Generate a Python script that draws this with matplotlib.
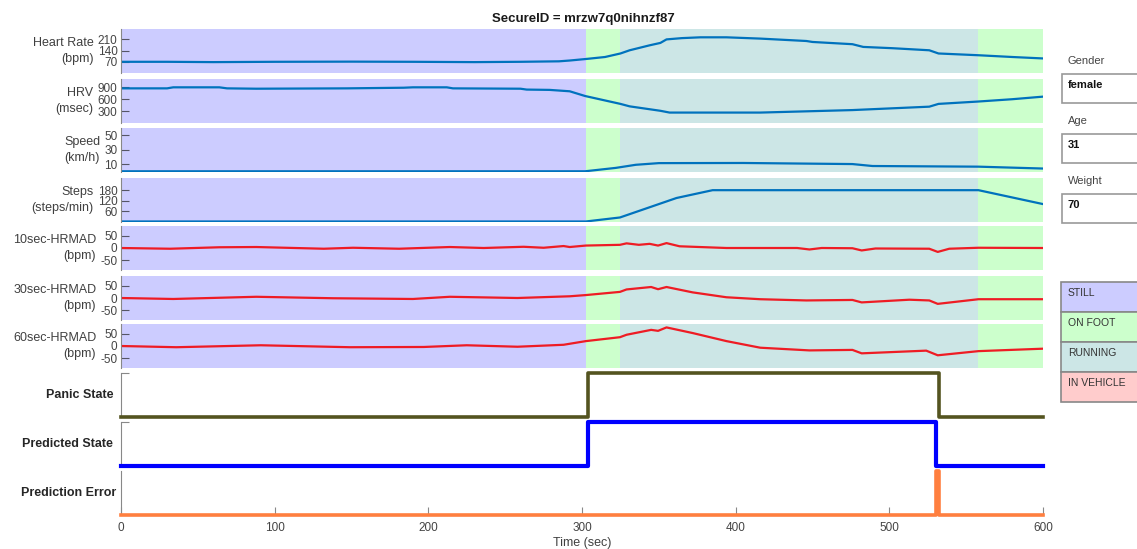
import matplotlib.pyplot as plt
from matplotlib.patches import Rectangle

plt.rcParams['font.family'] = ['Liberation Sans', 'DejaVu Sans']
plt.rcParams['axes.unicode_minus'] = False

W, H = 1137, 549

# activity states and the time segments they cover (sec)
state_names = ['STILL', 'ON FOOT', 'RUNNING', 'IN VEHICLE']
state_colors = ['#ccccff', '#ccffcc', '#cce6e6', '#ffcccc']
seg_start = [0, 302.5, 324.5, 558]
seg_end = [302.5, 324.5, 558, 600]
seg_state = ['STILL', 'ON FOOT', 'RUNNING', 'ON FOOT']

# heart rate (bpm)
hr_t = [0, 30, 60, 100, 150, 190, 230, 260, 285, 292, 302, 315, 325, 331, 344, 351, 355, 365, 377,
        394, 416, 446, 450, 476, 483, 502, 526, 532, 558, 580, 600]
hr_v = [70, 70, 68, 70, 71, 70, 68, 70, 73, 78, 87, 100, 122, 142, 173, 188, 210, 218, 223,
        223, 215, 200, 194, 180, 163, 155, 142, 122, 111, 100, 91]

# HRV (msec)
hrv_t = [0, 30, 34, 64, 69, 88, 147, 184, 190, 212, 216, 260, 264, 279, 292, 302, 308, 325, 331,
         351, 357, 416, 476, 526, 532, 558, 580, 600]
hrv_v = [874, 874, 900, 900, 874, 865, 874, 890, 900, 900, 874, 865, 843, 835, 800, 681, 629, 482, 420,
         308, 263, 263, 326, 412, 482, 542, 600, 665]

# speed (km/h)
speed_t = [0, 302, 322, 335, 350, 405, 476, 489, 558, 600]
speed_v = [0, 0, 4.7, 9, 11.3, 11.5, 10, 7.3, 6.4, 3.8]

# steps (steps/min)
steps_t = [0, 302.5, 324.7, 361.5, 385, 558, 600]
steps_v = [0, 0, 23, 135, 180, 180, 100]

# heart rate median absolute deviation (bpm)
hr10_t = [0, 32, 64, 88, 132, 151, 181, 214, 236, 262, 275, 288, 292, 302.5, 324.7, 329, 337, 344,
          349.5, 355, 363.5, 394, 440, 448, 456, 476, 482, 491, 526, 531.5, 539, 558, 600]
hr10_v = [0, -3, 3, 4, -3, 1, -3, 4, 0, 5, 1, 8, 4, 10, 13, 19, 13, 17,
          10, 20, 7, 0, 0, -6, 0, -1, -10, -2, -3, -16, -3, 1, 0]

hr30_t = [0, 34, 88, 138, 190, 214, 258, 292, 302.5, 324.7, 329, 345, 349.5, 355, 372, 394, 416,
          446, 476, 482, 513, 526, 531.5, 558, 600]
hr30_v = [0, -4, 5, -1, -4, 5, 0, 7, 12, 25, 35, 45, 36, 45, 23, 3, -5,
          -10, -8, -18, -7, -10, -24, -5, -5]

hr60_t = [0, 36, 91, 149, 197, 225, 258, 288, 302.5, 324.7, 329, 345, 349.5, 355, 372, 394, 416,
          448, 476, 482, 524, 531.5, 558, 600]
hr60_v = [0, -5, 3, -5, -4, 3, -3, 5, 20, 36, 46, 66, 62, 76, 53, 20, -7,
          -18, -16, -30, -19, -38, -21, -11]

# binary states
panic_t = [0, 304, 532, 600]
panic_v = [0, 1, 0, 0]
pred_t = [0, 304, 530.5, 600]
pred_v = [0, 1, 0, 0]
err_t = [0, 530.5, 532, 600]
err_v = [0, 1, 0, 0]

# user info
info_labels = ['Gender', 'Age', 'Weight']
info_values = ['female', '31', '70']


def box(x, y, w, h):
    # pixel box (from top-left) -> figure fraction
    return [x / W, 1 - (y + h) / H, w / W, h / H]


fig = plt.figure(figsize=(W / 100, H / 100), dpi=100)

left, width, height = 121, 922, 44
tops = [29, 79, 128, 178, 226, 276, 324, 373, 422, 471]

signals = [
    ('Heart Rate\n(bpm)', hr_t, hr_v, '#0072bd', (0, 275), [70, 140, 210]),
    ('HRV\n(msec)', hrv_t, hrv_v, '#0072bd', (0, 1110), [300, 600, 900]),
    ('Speed\n(km/h)', speed_t, speed_v, '#0072bd', (-1, 60), [10, 30, 50]),
    ('Steps\n(steps/min)', steps_t, steps_v, '#0072bd', (-3, 250), [60, 120, 180]),
    ('10sec-HRMAD\n(bpm)', hr10_t, hr10_v, '#ee1c24', (-90, 90), [-50, 0, 50]),
    ('30sec-HRMAD\n(bpm)', hr30_t, hr30_v, '#ee1c24', (-90, 90), [-50, 0, 50]),
    ('60sec-HRMAD\n(bpm)', hr60_t, hr60_v, '#ee1c24', (-90, 90), [-50, 0, 50]),
]

for i, (label, t, v, color, ylim, ticks) in enumerate(signals):
    ax = fig.add_axes(box(left, tops[i], width, height))
    for s, e, st in zip(seg_start, seg_end, seg_state):
        ax.axvspan(s, e, color=state_colors[state_names.index(st)], lw=0)
    ax.plot(t, v, color=color, lw=1.6)
    ax.set_xlim(0, 600)
    ax.set_ylim(*ylim)
    ax.set_yticks(ticks)
    ax.set_xticks([])
    for sp in ['top', 'right', 'bottom']:
        ax.spines[sp].set_visible(False)
    ax.spines['left'].set_color('#888888')
    ax.tick_params(axis='y', direction='in', length=6, color='#555566',
                   labelsize=8.5, labelcolor='#444444', pad=2.5)
    ax.set_ylabel(label, rotation=0, ha='right', va='center', fontsize=9,
                  color='#404040', labelpad=3, linespacing=1.55)

states = [
    ('Panic State', panic_t, panic_v, '#545420', 2.6, 2),
    ('Predicted State', pred_t, pred_v, '#0000ff', 3.0, 2),
    ('Prediction Error', err_t, err_v, '#ff7f3f', 2.6, 3.5),
]

for j, (label, t, v, color, lw, pad) in enumerate(states):
    ax = fig.add_axes(box(left, tops[7 + j], width, height))
    ax.plot(t, v, color=color, lw=lw, drawstyle='steps-post', clip_on=False, zorder=3)
    ax.set_xlim(0, 600)
    ax.set_ylim(0, 1)
    for sp in ['top', 'right']:
        ax.spines[sp].set_visible(False)
    ax.spines['left'].set_color('#888888')
    ax.spines['bottom'].set_color('#888888')
    ax.set_ylabel(label, rotation=0, ha='right', va='center', fontsize=9,
                  fontweight='bold', color='#262626', labelpad=pad)
    if j < 2:
        ax.set_yticks([1])
        ax.set_yticklabels([])
        ax.tick_params(axis='y', direction='in', length=6, color='#888888')
        ax.set_xticks([])
        ax.spines['bottom'].set_visible(False)
    else:
        ax.set_yticks([])
        ax.set_xticks([0, 100, 200, 300, 400, 500, 600])
        ax.tick_params(axis='x', direction='in', length=6, color='#888888',
                       labelsize=8.5, labelcolor='#444444', pad=5)
        ax.set_xlabel('Time (sec)', fontsize=9, color='#404040', labelpad=2)

fig.text(583 / W, 1 - 19 / H, 'SecureID = mrzw7q0nihnzf87', ha='center', va='center',
         fontsize=9.5, fontweight='bold', color='#1a1a1a')

# user info boxes
for k, (lab, val) in enumerate(zip(info_labels, info_values)):
    y0 = 74 + k * 60
    fig.text(1068 / W, 1 - (y0 - 13) / H, lab, fontsize=8, color='#444444', va='center')
    fig.add_artist(Rectangle((1062 / W, 1 - (y0 + 29) / H), 80 / W, 29 / H,
                             transform=fig.transFigure, fc='white', ec='#999999', lw=1.2))
    fig.text(1068 / W, 1 - (y0 + 11) / H, val, fontsize=8, fontweight='bold',
             color='#111111', va='center')

# state colour legend
for k, (name, col) in enumerate(zip(state_names, state_colors)):
    y0 = 282 + k * 30
    fig.add_artist(Rectangle((1061 / W, 1 - (y0 + 30) / H), 80 / W, 30 / H,
                             transform=fig.transFigure, fc=col, ec='#888888', lw=1.2))
    fig.text(1068 / W, 1 - (y0 + 11) / H, name, fontsize=7.5, color='#333333', va='center')

fig.savefig('out.png', dpi=100)
